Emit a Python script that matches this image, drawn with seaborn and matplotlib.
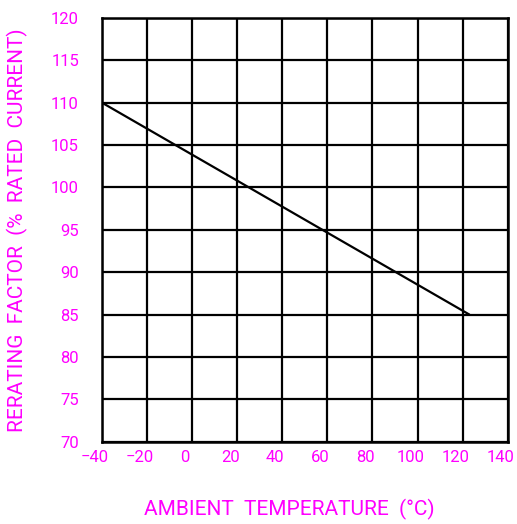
import numpy as np
import pandas as pd
import seaborn as sns
from matplotlib import pyplot as plt
from matplotlib import transforms

temp_c = [-40, 123]
derating_pct = [110, 85]
x_ticks = [-40, -20, 0, 20, 40, 60, 80, 100, 120, 140]
y_ticks = [70, 75, 80, 85, 90, 95, 100, 105, 110, 115, 120]

pink = '#ff00ff'

sns.set_style('white')
plt.rcParams['font.family'] = ['Roboto', 'DejaVu Sans']

data = pd.DataFrame({'temp': temp_c, 'derate': derating_pct})

fig = plt.figure(figsize=(5.17, 5.24), dpi=100)
ax = fig.add_axes([0.197, 0.157, 0.785, 0.809])

sns.lineplot(data=data, x='temp', y='derate', color='black', linewidth=1.6, ax=ax)

ax.set_xlim(-40, 140)
ax.set_ylim(70, 120)
ax.set_xticks(x_ticks)
ax.set_yticks(y_ticks)
ax.set_xticklabels(['\u2212%d' % abs(t) if t < 0 else str(t) for t in x_ticks])
ax.grid(True, color='black', linewidth=1.6)
ax.tick_params(axis='both', colors=pink, labelsize=12, length=0)
ax.tick_params(axis='x', pad=6)
ax.tick_params(axis='y', pad=16.5)
# labels in the drawing sit a bit left of their grid lines
shift = transforms.ScaledTranslation(-7 / 100, 0, fig.dpi_scale_trans)
for lab in ax.get_xticklabels():
    lab.set_transform(lab.get_transform() + shift)
for sp in ax.spines.values():
    sp.set_color('black')
    sp.set_linewidth(1.8)

ax.set_xlabel('AMBIENT  TEMPERATURE  (\u00b0C)', color=pink, fontsize=15)
ax.set_ylabel('RERATING  FACTOR  (%  RATED  CURRENT)', color=pink, fontsize=15)
ax.xaxis.set_label_coords(0.463, -0.135)
ax.yaxis.set_label_coords(-0.182, 0.5)

fig.savefig('out.png', dpi=100)
